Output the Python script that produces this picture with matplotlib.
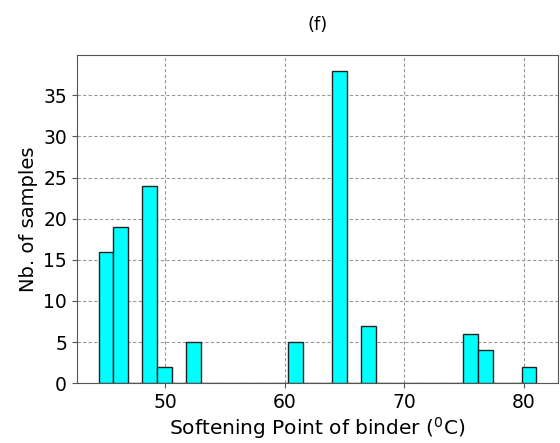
import numpy as np
import matplotlib
matplotlib.use("Agg")
import matplotlib.pyplot as plt

# histogram data: 30 equal bins between these limits
bin_lo = 44.45
bin_hi = 81.03
counts = [16, 19, 0, 24, 2, 0, 5, 0, 0, 0,
          0, 0, 0, 5, 0, 0, 38, 0, 7, 0,
          0, 0, 0, 0, 0, 6, 4, 0, 0, 2]

edges = np.linspace(bin_lo, bin_hi, len(counts) + 1)

fig = plt.figure(figsize=(5.6, 4.43), dpi=100)
ax = fig.add_axes([0.137, 0.135, 0.860, 0.741])

ax.hist(edges[:-1], bins=edges, weights=counts, color='cyan',
        edgecolor='#222222', linewidth=1.0, zorder=3)

ax.grid(True, linestyle=(0, (3, 2)), color='#999999', linewidth=0.8, zorder=0)
ax.set_axisbelow(True)
for s in ax.spines.values():
    s.set_color('#555555')

ax.set_xticks([50, 60, 70, 80])
ax.set_yticks([0, 5, 10, 15, 20, 25, 30, 35])
ax.tick_params(labelsize=13.5, color='#555555')
ax.set_xlabel("Softening Point of binder ($^0$C)", fontsize=14.5, labelpad=2)
ax.set_ylabel("Nb. of samples", fontsize=14, labelpad=4)
ax.set_title("(f)", fontsize=13, pad=18)

fig.savefig("out.png", dpi=100)
